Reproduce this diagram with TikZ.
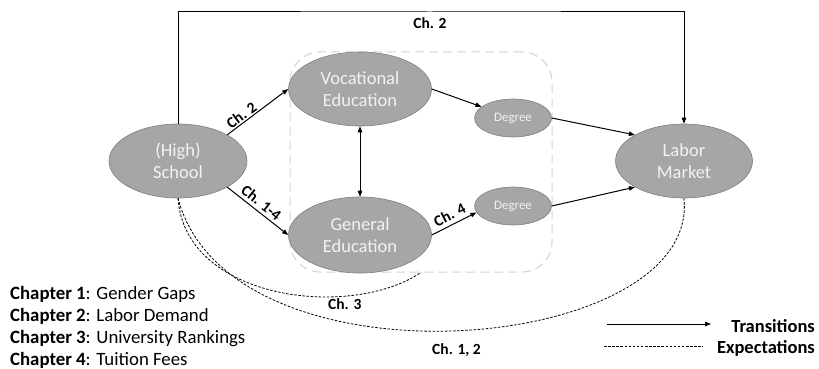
\documentclass[tikz,border=0pt]{standalone}
\usepackage{fontspec}
\setmainfont{Carlito}
\usetikzlibrary{arrows.meta,shapes.geometric}
\definecolor{stategray}{HTML}{A6A6A6}
\definecolor{stateedge}{HTML}{7F7F7F}
\definecolor{boxgray}{HTML}{D2D2D2}
\begin{document}
\begin{tikzpicture}[x=1pt, y=-1pt, line join=round, >={Triangle[length=6pt,width=4.5pt]},
		state/.style={ellipse, fill=stategray, draw=stateedge, line width=0.6pt, text=white!95!black, align=center, inner sep=0pt, font=\fontsize{18.5}{22}\selectfont},
		deg/.style={state, minimum width=77pt, minimum height=38pt, font=\fontsize{13}{14}\selectfont},
		lbl/.style={font=\fontsize{15.5}{17}\selectfont\bfseries, inner sep=1pt},
		trans/.style={->, line width=1pt},
		expect/.style={line width=0.8pt, dash pattern=on 2.5pt off 1.6pt},
		legtext/.style={font=\fontsize{18.8}{22}\selectfont, inner sep=0pt}]
			\useasboundingbox (0,0) rectangle (819,369);
			\node[draw=boxgray, line width=1pt, dash pattern=on 9pt off 5pt, rounded corners=30pt, minimum width=262pt, minimum height=220pt] (cluster) at (421,162) {};
			\node[state, minimum width=138pt, minimum height=74pt] (school) at (178,161) {(High)\\School};
			\node[state, minimum width=143pt, minimum height=74pt] (voc) at (360,89) {Vocational\\Education};
			\node[state, minimum width=143pt, minimum height=76pt] (gen) at (360,235) {General\\Education};
			\node[deg] (deg1) at (513,118) {Degree};
			\node[deg] (deg2) at (513,206) {Degree};
			\node[state, minimum width=137pt, minimum height=74pt] (labor) at (684,161) {Labor\\Market};
			\coordinate (top) at (430,12);
			\draw[trans] (school.north) |- (top) node[lbl, below=4pt] (ch2top) {Ch. 2} -| (labor.north);
			\draw[trans] (school.28) -- (voc.west) node[lbl, pos=0.3, above, sloped] (ch2) {Ch. 2};
			\draw[trans] (school.-28) -- (gen.west) node[lbl, pos=0.47, above=2pt, sloped] (ch14) {Ch. 1-4};
			\draw[trans, <->] (voc.south) -- (gen.north);
			\draw[trans] (voc.east) -- (deg1);
			\draw[trans] (deg1.east) -- (labor.152);
			\draw[trans] (gen.east) -- (deg2.190) node[lbl, midway, above=3pt, sloped] (ch4) {Ch. 4};
			\draw[trans] (deg2.east) -- (labor.208);
			\draw[expect] (school.south) .. controls (185,300) and (350,320) .. (cluster.south) node[lbl, pos=0.72, below=1pt] (ch3) {Ch. 3};
			\draw[expect] (school.south) .. controls (230,395) and (700,355) .. (labor.south) node[lbl, pos=0.5, below=11pt] (ch12) {Ch. 1, 2};
			\node[legtext, anchor=base west] (leg1) at (10,299) {\textbf{Chapter 1}: Gender Gaps};
			\node[legtext, anchor=base west] (leg2) at (10,321) {\textbf{Chapter 2}: Labor Demand};
			\node[legtext, anchor=base west] (leg3) at (10,343) {\textbf{Chapter 3}: University Rankings};
			\node[legtext, anchor=base west] (leg4) at (10,365) {\textbf{Chapter 4}: Tuition Fees};
			\node[legtext, anchor=east, font=\fontsize{18.5}{22}\selectfont\bfseries] (ltrans) at (815,326) {Transitions};
			\node[legtext, anchor=east, font=\fontsize{18.5}{22}\selectfont\bfseries] (lexpect) at (815,348) {Expectations};
			\coordinate (t1) at (607,324);
			\coordinate (t2) at (711,324);
			\coordinate (e1) at (604,346);
			\coordinate (e2) at (703,346);
			\draw[trans] (t1) -- (t2);
			\draw[expect] (e1) -- (e2);
		\end{tikzpicture}
\end{document}
